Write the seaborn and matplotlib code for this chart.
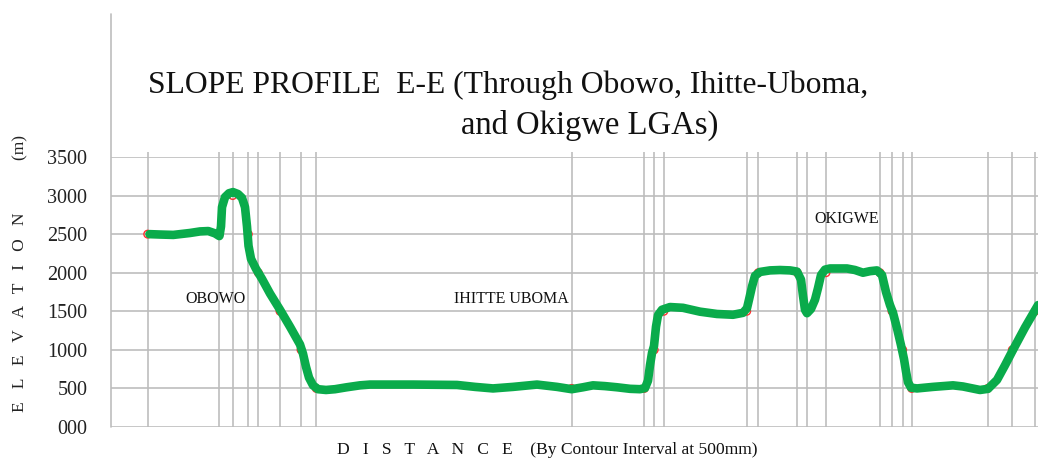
import numpy as np
import pandas as pd
import matplotlib
matplotlib.use("Agg")
import matplotlib.pyplot as plt
import seaborn as sns
from matplotlib.lines import Line2D

# ---- data -------------------------------------------------------------
# contour crossings (distance units, elevation m)
contour_dist = [36.7, 108.3, 121.7, 137.3, 147.3, 169.0, 190.0, 205.3, 460.7,
                533.3, 543.2, 552.8, 635.7, 647.3, 686.3, 695.8, 715.0, 769.0,
                781.0, 791.7, 800.7, 876.7, 901.3, 924.0]
contour_elev = [2500, 2500, 3000, 2500, 2000, 1500, 1000, 500, 500,
                500, 1000, 1500, 1500, 2000, 2000, 1500, 2000, 2000,
                1500, 1000, 500, 500, 1000, 1500]

# traced profile line (distance units, elevation m)
profile_dist = [38.5, 49, 62.3, 79, 89, 97.3, 104, 108.3, 108.5, 110, 111, 114,
                118, 122, 127, 131, 134, 136, 137.5, 140, 145, 151, 159, 169,
                179, 189, 192, 195, 198, 202, 207, 215, 224, 235.7, 249, 259,
                302, 346, 364, 382, 402, 426, 446, 460.7, 472, 482, 494, 506,
                519, 529, 534, 537, 539, 541, 543, 545, 547, 551, 559, 572,
                589, 606, 622, 632, 636, 638, 641, 644, 649, 659, 669, 679,
                686, 690, 692, 694, 696, 700, 704, 707, 710, 714, 719, 736,
                744, 752, 759, 766, 771, 775, 779, 782, 786, 790, 793, 795,
                797, 800, 806, 822, 842, 852, 869, 877, 886, 894, 902, 914,
                927]
profile_elev = [2500, 2495, 2490, 2515, 2535, 2540, 2510, 2475, 2480, 2600,
                2850, 2980, 3030, 3045, 3020, 2970, 2850, 2600, 2350, 2180,
                2050, 1920, 1730, 1520, 1300, 1070, 950, 780, 640, 540, 490,
                480, 490, 515, 540, 550, 550, 545, 520, 500, 520, 550, 520,
                490, 515, 540, 530, 515, 495, 490, 505, 600, 800, 960, 1050,
                1300, 1450, 1520, 1555, 1545, 1495, 1465, 1455, 1480, 1540,
                1650, 1820, 1960, 2010, 2030, 2035, 2030, 2015, 1910, 1700,
                1520, 1475, 1530, 1650, 1800, 1970, 2040, 2055, 2055, 2035,
                2000, 2020, 2030, 1970, 1750, 1580, 1480, 1280, 1060, 880,
                720, 580, 510, 500, 520, 540, 525, 480, 495, 610, 800, 1000,
                1290, 1580]

region_names = ["OBOWO", "IHITTE UBOMA", "OKIGWE"]
region_dist = [104, 400, 736]
region_elev = [1660, 1660, 2700]

y_ticks = [0, 500, 1000, 1500, 2000, 2500, 3000, 3500]
y_tick_labels = ["000", "500", "1000", "1500", "2000", "2500", "3000", "3500"]

title_line1 = "SLOPE PROFILE  E-E (Through Obowo, Ihitte-Uboma,"
title_line2 = "and Okigwe LGAs)"
y_label = "E   L   E   V   A   T   I   O   N" + " " * 12 + "(m)"
x_label = "D   I   S   T   A   N   C   E    (By Contour Interval at 500mm)"

contour_df = pd.DataFrame({"distance": contour_dist, "elevation": contour_elev})
profile_df = pd.DataFrame({"distance": profile_dist, "elevation": profile_elev})

# ---- style ------------------------------------------------------------
sns.set_style("white")
plt.rcParams["font.family"] = ["Liberation Serif", "DejaVu Serif"]

W, H = 1038, 461
fig = plt.figure(figsize=(W / 100, H / 100), dpi=100)
ax = fig.add_axes([111 / W, (H - 427) / H, (W - 111) / W, 270 / H])

grid_col = "#bdbdbd"
ax.set_xlim(0, 927)
ax.set_ylim(0, 3500)

# horizontal grid
for yv in y_ticks:
    ax.axhline(yv, color=grid_col, lw=1.2, zorder=1)
# vertical grid at each contour crossing
ax.vlines(contour_df["distance"], 0, 3560, colors=grid_col, lw=1.2,
          zorder=1, clip_on=False)

# red contour markers
sns.scatterplot(data=contour_df, x="distance", y="elevation", ax=ax,
                marker="o", s=30, facecolors="none", edgecolor="#ff3030",
                linewidth=1.0, zorder=2, legend=False)

# green profile
sns.lineplot(data=profile_df, x="distance", y="elevation", ax=ax,
             sort=False, estimator=None, color="#0aab4b", lw=6.2,
             zorder=3, solid_capstyle="round", solid_joinstyle="round")

for name, dx, ey in zip(region_names, region_dist, region_elev):
    ax.text(dx, ey, name, fontsize=11.5, ha="center", va="center",
            color="#111111", zorder=4)

ax.set_yticks(y_ticks)
ax.set_yticklabels(y_tick_labels, fontsize=14.5, color="#222222")
ax.set_xticks([])
ax.tick_params(axis="y", length=0, pad=17)
ax.set_xlabel("")
ax.set_ylabel("")
for s in ["top", "right", "left", "bottom"]:
    ax.spines[s].set_visible(False)

# left axis line extended up through the chart area
fig.add_artist(Line2D([111 / W, 111 / W], [(H - 427) / H, (H - 14) / H],
                      color=grid_col, lw=1.2))

fig.text(508 / W, (H - 85) / H, title_line1, fontsize=22.8, ha="center",
         va="center", color="#111111")
fig.text(590 / W, (H - 125) / H, title_line2, fontsize=23.5, ha="center",
         va="center", color="#111111")
fig.text(20 / W, (H - 274) / H, y_label, fontsize=12.5, rotation=90,
         ha="center", va="center", color="#222222")
fig.text(547 / W, (H - 450) / H, x_label, fontsize=12.6, ha="center",
         va="center", color="#111111")

fig.savefig("out.png", dpi=100, facecolor="white")
